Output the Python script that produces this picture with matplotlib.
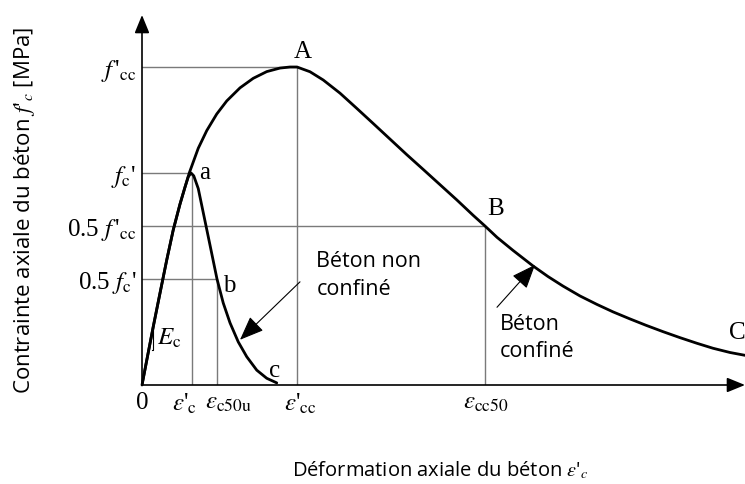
import matplotlib
matplotlib.use("Agg")
import matplotlib.pyplot as plt

# -------------------------------
# Data (strain in 1e-3, stress in MPa)
# -------------------------------
eps_c = 2.0        # ε'c   (peak of unconfined concrete)
eps_c50u = 3.0     # εc50u
eps_cc = 6.2       # ε'cc  (peak of confined concrete)
eps_cc50 = 13.72   # εcc50
fc = 30.0          # f'c
fcc = 45.0         # f'cc

# confined concrete curve (0 -> A -> B -> C)
conf_eps = [0.0, 0.19, 0.45, 0.72, 0.99, 1.25, 1.52, 1.72, 1.89, 2.25, 2.59,
            2.99, 3.39, 3.92, 4.45, 4.99, 5.52, 5.92, 6.2, 6.72, 7.25, 7.92,
            8.59, 9.25, 9.92, 10.59, 11.25, 11.92, 12.59, 13.25, 13.72, 14.2,
            14.84, 15.64, 16.24, 16.84, 17.52, 18.2, 18.84, 19.52, 20.16, 20.84,
            21.52, 22.2, 22.84, 23.52, 24.12]
conf_sig = [0.0, 3.5, 8.25, 13.0, 17.7, 21.95, 25.6, 28.0, 30.0, 33.5, 36.0,
            38.35, 40.2, 42.05, 43.4, 44.35, 44.85, 45.0, 45.0, 44.33, 43.16, 41.3,
            39.15, 37.0, 34.8, 32.6, 30.5, 28.35, 26.2, 24.0, 22.5, 20.9,
            19.05, 16.85, 15.35, 14.0, 12.6, 11.4, 10.35, 9.35, 8.45, 7.55,
            6.7, 5.9, 5.2, 4.6, 4.2]

# unconfined concrete curve (0 -> a -> b -> c)
unconf_eps = [0.0, 0.19, 0.45, 0.72, 0.99, 1.25, 1.52, 1.72, 1.85, 1.96, 2.07,
              2.25, 2.45, 2.72, 3.0, 3.25, 3.52, 3.85, 4.19, 4.59, 4.99, 5.39]
unconf_sig = [0.0, 3.5, 8.25, 13.0, 17.7, 21.95, 25.6, 28.0, 29.45, 30.0, 29.6,
              27.8, 24.4, 19.8, 15.0, 11.6, 8.8, 6.1, 4.0, 2.1, 0.95, 0.3]

ytick_vals = [0.5 * fc, 0.5 * fcc, fc, fcc]
ytick_labels = [r"0.5 $f_{\rm c}$'", r"0.5 $f\,$'$_{\rm cc}$", r"$f_{\rm c}$'", r"$f\,$'$_{\rm cc}$"]

# -------------------------------
# Figure
# -------------------------------
fig = plt.figure(figsize=(7.45, 4.84), dpi=100)
ax = fig.add_axes([142 / 745, 99 / 484, 603 / 745, 370 / 484])
ax.set_xlim(0, 24.12)
ax.set_ylim(0, 52.36)

for s in ax.spines.values():
    s.set_visible(False)

# axes with arrow heads
arrow = dict(arrowstyle="-|>,head_length=1.1,head_width=0.45", color="black",
             lw=1.2, mutation_scale=10, shrinkA=0, shrinkB=0)
ax.annotate("", xy=(0, 1), xytext=(0, 0), xycoords="axes fraction", arrowprops=arrow)
ax.annotate("", xy=(1, 0), xytext=(0, 0), xycoords="axes fraction", arrowprops=arrow)

# guide lines
guide = dict(color="#7a7a7a", lw=1.0, zorder=1)
ax.plot([0, eps_cc, eps_cc], [fcc, fcc, 0], **guide)
ax.plot([0, eps_c, eps_c], [fc, fc, 0], **guide)
ax.plot([0, eps_cc50, eps_cc50], [0.5 * fcc, 0.5 * fcc, 0], **guide)
ax.plot([0, eps_c50u, eps_c50u], [0.5 * fc, 0.5 * fc, 0], **guide)

# curves
line_kw = dict(color="black", lw=2.0, zorder=3, solid_joinstyle="round",
               solid_capstyle="round")
ax.plot(conf_eps, conf_sig, clip_on=False, **line_kw)
ax.plot(unconf_eps, unconf_sig, **line_kw)

# Ec slope mark
ax.plot([0.38, 0.45, 0.45], [4.95, 4.95, 8.3], color="black", lw=0.8)

# y tick labels
ax.set_xticks([])
ax.set_yticks(ytick_vals)
ax.set_yticklabels(ytick_labels)
ax.tick_params(axis="y", length=0, pad=4)
for lbl in ax.get_yticklabels():
    lbl.set_fontsize(18)
    lbl.set_fontfamily("Liberation Serif")
    lbl.set_math_fontfamily("stix")

# x labels (written as text because they are crowded)
xt = dict(fontsize=18, fontfamily="Liberation Serif", math_fontfamily="stix",
          va="top", ha="center")
ax.text(0, -1.0, "0", **xt)
ax.text(1.72, -1.0, r"$\varepsilon$'$_{\rm c}$", **xt)
ax.text(3.44, -1.0, r"$\varepsilon_{\rm c50u}$", **xt)
ax.text(6.32, -1.0, r"$\varepsilon$'$_{\rm cc}$", **xt)
ax.text(13.76, -1.0, r"$\varepsilon_{\rm cc50}$", **xt)

# point labels
pt = dict(fontsize=18, fontfamily="Liberation Serif", va="center")
ax.text(6.44, 47.1, "A", ha="center", **pt)
ax.text(2.28, 30.0, "a", ha="left", **pt)
ax.text(3.24, 14.0, "b", ha="left", **pt)
ax.text(5.08, 2.0, "c", ha="left", **pt)
ax.text(13.8, 24.9, "B", ha="left", **pt)
ax.text(23.48, 7.4, "C", ha="left", **pt)
ax.text(0.59, 6.6, r"$E_{\rm c}$", ha="left", math_fontfamily="stix", **pt)

# annotations
head = dict(arrowstyle="-|>,head_length=1.5,head_width=0.6", color="black",
            lw=0.8, mutation_scale=10, shrinkA=0, shrinkB=0)
ax.annotate("", xy=(3.92, 6.4), xytext=(6.32, 14.6), arrowprops=head)
ax.annotate("", xy=(15.72, 17.0), xytext=(14.2, 11.0), arrowprops=head)
ax.text(6.98, 15.5, "Béton non\nconfiné", fontsize=15.5, fontfamily="Open Sans",
        va="center", ha="left", linespacing=1.4)
ax.text(14.3, 6.65, "Béton\nconfiné", fontsize=15.5, fontfamily="Open Sans",
        va="center", ha="left", linespacing=1.4)

# axis titles
fig.text(25 / 745, 1 - 210 / 484, r"Contrainte axiale du béton $f$'$_c$ [MPa]",
         rotation=90, ha="center", va="center", fontsize=16, fontfamily="Open Sans",
         math_fontfamily="stix")
fig.text(440 / 745, 1 - 470 / 484, r"Déformation axiale du béton $\varepsilon$'$_c$",
         ha="center", va="center", fontsize=14.5, fontfamily="Open Sans",
         math_fontfamily="stix")

plt.savefig("out.png", dpi=100)
